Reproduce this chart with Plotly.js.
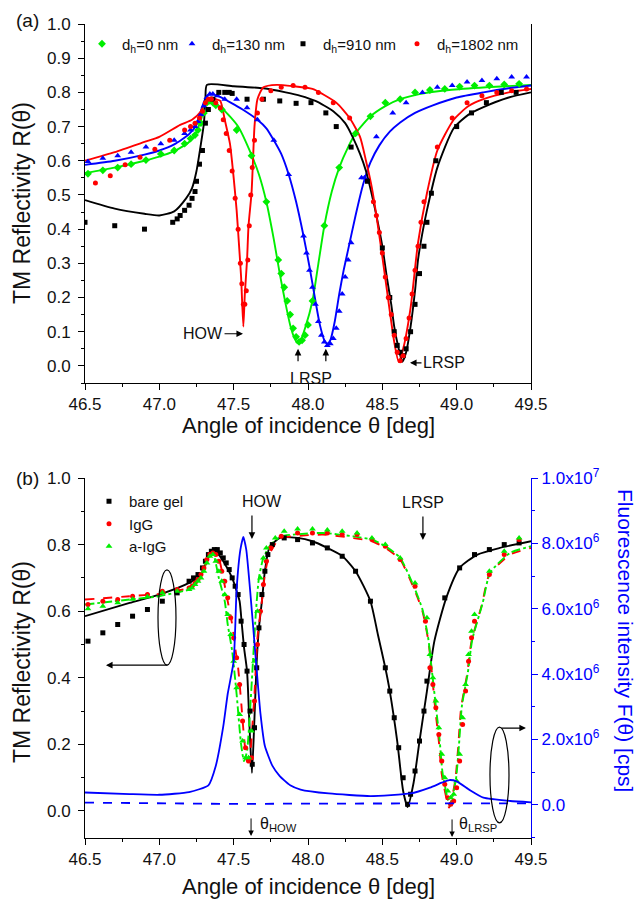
<!DOCTYPE html>
<html><head><meta charset="utf-8">
<script src="https://cdn.plot.ly/plotly-3.0.1.min.js"></script>
<style>body{margin:0;background:#fff}#chart{width:639px;height:900px}</style>
</head><body><div id="chart"></div><script>
// ---------------- Panel (a) data ----------------
const aLegendNames = ['d<sub>h</sub>=0 nm','d<sub>h</sub>=130 nm','d<sub>h</sub>=910 nm','d<sub>h</sub>=1802 nm'];

const aGreenFitX = [46.5,46.7,46.9,47.0,47.1,47.2,47.25,47.28,47.31,47.33,47.36,47.43,47.53,47.62,47.67,47.72,47.77,47.81,47.85,47.88,47.91,47.93,47.95,47.98,48.03,48.07,48.11,48.16,48.21,48.27,48.32,48.42,48.52,48.62,48.75,48.95,49.2,49.5];
const aGreenFitY = [0.564,0.58,0.60,0.612,0.628,0.655,0.685,0.72,0.765,0.78,0.772,0.75,0.70,0.617,0.56,0.48,0.37,0.27,0.18,0.12,0.08,0.067,0.075,0.11,0.19,0.30,0.41,0.51,0.58,0.64,0.68,0.73,0.76,0.78,0.795,0.807,0.815,0.822];
const aGreenExpX = [46.52,46.62,46.72,46.81,46.91,47.01,47.10,47.17,47.21,47.24,47.26,47.28,47.30,47.32,47.34,47.36,47.38,47.42,47.52,47.62,47.72,47.80,47.82,47.84,47.86,47.88,47.90,47.92,47.94,47.96,47.98,48.00,48.03,48.11,48.21,48.32,48.42,48.52,48.62,48.72,48.82,48.92,49.02,49.12,49.22,49.32,49.42];
const aGreenExpY = [0.562,0.572,0.58,0.59,0.602,0.62,0.63,0.65,0.665,0.675,0.69,0.71,0.74,0.77,0.775,0.77,0.762,0.75,0.69,0.615,0.48,0.31,0.27,0.23,0.19,0.15,0.11,0.085,0.07,0.075,0.09,0.12,0.19,0.41,0.58,0.68,0.73,0.77,0.78,0.80,0.807,0.81,0.817,0.82,0.82,0.823,0.825];

const aBlueFitX = [46.5,46.7,46.9,47.0,47.1,47.2,47.25,47.29,47.32,47.35,47.4,47.48,47.56,47.66,47.72,47.77,47.82,47.87,47.92,47.97,48.01,48.05,48.08,48.11,48.13,48.15,48.18,48.21,48.24,48.27,48.32,48.37,48.42,48.48,48.55,48.62,48.72,48.84,49.0,49.18,49.35,49.5];
const aBlueFitY = [0.588,0.60,0.618,0.63,0.648,0.678,0.705,0.76,0.79,0.795,0.788,0.77,0.75,0.72,0.695,0.66,0.62,0.56,0.48,0.38,0.29,0.19,0.12,0.075,0.065,0.075,0.13,0.21,0.28,0.34,0.44,0.53,0.595,0.645,0.685,0.712,0.74,0.762,0.785,0.80,0.812,0.82];
const aBlueExpX = [46.52,46.62,46.72,46.81,46.91,47.01,47.10,47.17,47.21,47.24,47.26,47.28,47.30,47.32,47.34,47.36,47.39,47.44,47.52,47.59,47.66,47.77,47.87,47.97,47.99,48.01,48.03,48.05,48.07,48.09,48.11,48.13,48.15,48.17,48.19,48.21,48.23,48.25,48.27,48.29,48.36,48.38,48.46,48.57,48.66,48.77,48.87,48.97,49.07,49.17,49.27,49.37,49.47];
const aBlueExpY = [0.598,0.607,0.615,0.625,0.64,0.65,0.66,0.68,0.69,0.70,0.715,0.735,0.76,0.785,0.795,0.795,0.79,0.78,0.78,0.755,0.72,0.66,0.56,0.38,0.33,0.28,0.23,0.18,0.13,0.09,0.07,0.06,0.065,0.08,0.11,0.16,0.21,0.26,0.31,0.36,0.55,0.55,0.67,0.74,0.77,0.80,0.815,0.82,0.83,0.835,0.84,0.845,0.845];

const aBlackFitX = [46.5,46.7,46.9,47.0,47.1,47.18,47.22,47.25,47.28,47.30,47.31,47.32,47.5,47.7,47.85,47.95,48.05,48.17,48.25,48.30,48.35,48.39,48.43,48.46,48.50,48.53,48.56,48.58,48.61,48.635,48.66,48.69,48.72,48.74,48.77,48.80,48.87,48.98,49.08,49.18,49.35,49.5];
const aBlackFitY = [0.485,0.46,0.445,0.44,0.452,0.49,0.52,0.57,0.65,0.71,0.78,0.822,0.818,0.812,0.80,0.79,0.775,0.745,0.71,0.67,0.62,0.57,0.50,0.44,0.35,0.26,0.18,0.115,0.05,0.012,0.04,0.115,0.22,0.31,0.39,0.455,0.58,0.695,0.735,0.757,0.785,0.80];
const aBlackExpX = [46.5,46.7,46.9,47.09,47.12,47.14,47.17,47.20,47.22,47.24,47.25,47.27,47.29,47.31,47.33,47.36,47.40,47.44,47.47,47.49,47.59,47.70,47.81,47.92,48.02,48.12,48.19,48.29,48.40,48.50,48.55,48.58,48.60,48.62,48.64,48.66,48.69,48.72,48.75,48.78,48.80,48.83,48.86,49.00,49.10,49.20,49.30,49.40];
const aBlackExpY = [0.42,0.41,0.40,0.42,0.43,0.44,0.455,0.47,0.49,0.51,0.54,0.59,0.63,0.71,0.75,0.78,0.80,0.80,0.80,0.797,0.78,0.78,0.775,0.768,0.77,0.74,0.70,0.64,0.54,0.345,0.20,0.10,0.06,0.04,0.03,0.05,0.10,0.18,0.27,0.35,0.42,0.505,0.60,0.70,0.74,0.77,0.80,0.80];

const aRedFitX = [46.5,46.7,46.9,47.0,47.14,47.22,47.28,47.32,47.35,47.38,47.41,47.44,47.475,47.50,47.52,47.535,47.55,47.565,47.575,47.59,47.60,47.62,47.63,47.64,47.66,47.70,47.79,47.9,48.03,48.19,48.28,48.35,48.39,48.43,48.46,48.50,48.55,48.58,48.61,48.64,48.69,48.74,48.80,48.87,48.98,49.08,49.18,49.35,49.5];
const aRedFitY = [0.60,0.625,0.655,0.67,0.705,0.72,0.745,0.78,0.785,0.78,0.775,0.72,0.65,0.55,0.455,0.36,0.26,0.115,0.21,0.31,0.41,0.505,0.60,0.70,0.78,0.815,0.822,0.818,0.81,0.77,0.725,0.67,0.60,0.52,0.44,0.32,0.16,0.07,0.012,0.05,0.17,0.36,0.505,0.63,0.72,0.76,0.78,0.80,0.81];
const aRedExpX = [46.57,46.67,46.77,46.87,46.97,47.07,47.17,47.21,47.24,47.27,47.29,47.31,47.33,47.35,47.38,47.41,47.43,47.45,47.47,47.49,47.51,47.53,47.545,47.555,47.565,47.575,47.585,47.595,47.605,47.615,47.625,47.64,47.66,47.69,47.75,47.82,47.90,47.98,48.07,48.17,48.28,48.44,48.46,48.48,48.50,48.52,48.54,48.56,48.58,48.60,48.62,48.64,48.66,48.68,48.70,48.72,48.74,48.76,48.78,48.87,48.97,49.07,49.17,49.27,49.37,49.47];
const aRedExpY = [0.535,0.556,0.588,0.61,0.634,0.66,0.69,0.70,0.71,0.725,0.745,0.77,0.78,0.78,0.77,0.755,0.72,0.68,0.63,0.57,0.49,0.40,0.30,0.24,0.18,0.18,0.22,0.31,0.41,0.50,0.58,0.66,0.74,0.78,0.805,0.815,0.82,0.815,0.80,0.77,0.725,0.48,0.44,0.39,0.33,0.26,0.20,0.15,0.09,0.04,0.015,0.03,0.08,0.14,0.21,0.28,0.35,0.42,0.48,0.64,0.725,0.77,0.79,0.80,0.805,0.81];

// ---------------- Panel (b) data ----------------
const bLegendNames = ['bare gel','IgG','a-IgG'];

const bBlackFitX = [46.5,46.8,47.0,47.2,47.28,47.32,47.355,47.38,47.43,47.49,47.52,47.54,47.555,47.57,47.59,47.605,47.623,47.64,47.655,47.67,47.69,47.71,47.74,47.81,47.93,48.03,48.13,48.23,48.32,48.42,48.47,48.52,48.55,48.60,48.64,48.67,48.71,48.75,48.80,48.85,48.93,49.02,49.14,49.29,49.5];
const bBlackFitY = [0.585,0.625,0.65,0.685,0.71,0.75,0.784,0.78,0.75,0.70,0.66,0.63,0.56,0.49,0.42,0.27,0.114,0.28,0.45,0.55,0.63,0.72,0.79,0.82,0.82,0.81,0.79,0.766,0.72,0.63,0.53,0.43,0.36,0.21,0.06,0.012,0.084,0.21,0.36,0.51,0.64,0.73,0.77,0.79,0.81];
const bBlackExpX = [46.52,46.62,46.72,46.82,46.92,47.02,47.12,47.2,47.23,47.26,47.29,47.31,47.33,47.35,47.37,47.39,47.41,47.43,47.45,47.47,47.49,47.51,47.53,47.55,47.57,47.59,47.61,47.625,47.64,47.655,47.67,47.69,47.71,47.73,47.76,47.84,47.93,48.03,48.13,48.23,48.32,48.42,48.52,48.55,48.58,48.61,48.64,48.67,48.69,48.72,48.75,48.78,48.80,48.92,49.02,49.12,49.22,49.32,49.42];
const bBlackExpY = [0.51,0.535,0.56,0.585,0.605,0.63,0.655,0.69,0.70,0.71,0.73,0.75,0.77,0.78,0.785,0.785,0.775,0.76,0.745,0.725,0.70,0.675,0.65,0.57,0.50,0.42,0.30,0.14,0.25,0.43,0.55,0.65,0.72,0.77,0.80,0.82,0.815,0.805,0.79,0.765,0.72,0.63,0.43,0.36,0.28,0.19,0.10,0.02,0.05,0.12,0.21,0.30,0.39,0.64,0.73,0.77,0.785,0.80,0.805];

const bRedFitX = [46.5,46.8,47.0,47.1,47.2,47.25,47.3,47.35,47.37,47.40,47.43,47.46,47.49,47.51,47.53,47.55,47.57,47.59,47.61,47.625,47.64,47.66,47.69,47.71,47.74,47.81,47.9,48.1,48.3,48.43,48.52,48.62,48.72,48.77,48.81,48.83,48.855,48.88,48.90,48.935,48.95,48.99,49.01,49.03,49.07,49.10,49.17,49.22,49.36,49.5];
const bRedFitY = [0.635,0.645,0.652,0.66,0.67,0.69,0.73,0.775,0.78,0.76,0.70,0.63,0.56,0.49,0.43,0.33,0.22,0.15,0.17,0.25,0.35,0.52,0.63,0.71,0.77,0.82,0.825,0.83,0.82,0.81,0.79,0.755,0.66,0.60,0.51,0.43,0.31,0.21,0.11,0.03,0.01,0.09,0.19,0.31,0.41,0.51,0.62,0.71,0.77,0.79];
const bRedExpX = [46.52,46.62,46.72,46.82,46.92,47.02,47.12,47.2,47.22,47.24,47.26,47.28,47.30,47.32,47.34,47.36,47.38,47.40,47.42,47.44,47.46,47.48,47.50,47.52,47.54,47.56,47.58,47.60,47.62,47.64,47.66,47.68,47.70,47.72,47.75,47.82,47.93,48.03,48.13,48.23,48.33,48.43,48.52,48.62,48.72,48.79,48.82,48.84,48.86,48.88,48.90,48.92,48.94,48.96,48.98,49.00,49.02,49.04,49.06,49.08,49.10,49.12,49.22,49.32,49.42];
const bRedExpY = [0.62,0.63,0.635,0.645,0.65,0.66,0.665,0.67,0.675,0.685,0.695,0.71,0.73,0.755,0.77,0.775,0.77,0.75,0.72,0.69,0.64,0.58,0.52,0.46,0.38,0.27,0.19,0.15,0.16,0.33,0.50,0.60,0.68,0.75,0.79,0.825,0.835,0.835,0.835,0.83,0.83,0.815,0.795,0.755,0.675,0.57,0.43,0.38,0.31,0.23,0.15,0.08,0.04,0.02,0.03,0.07,0.15,0.26,0.36,0.45,0.52,0.57,0.71,0.77,0.815];

const bGreenFitX = [46.5,46.8,47.0,47.1,47.2,47.25,47.3,47.34,47.36,47.40,47.44,47.46,47.49,47.52,47.55,47.57,47.59,47.61,47.63,47.65,47.67,47.70,47.75,47.82,47.9,48.1,48.3,48.43,48.52,48.62,48.72,48.77,48.81,48.83,48.86,48.885,48.905,48.94,48.955,48.995,49.015,49.035,49.075,49.105,49.175,49.225,49.36,49.5];
const bGreenFitY = [0.62,0.635,0.645,0.655,0.665,0.685,0.725,0.77,0.775,0.70,0.63,0.56,0.48,0.35,0.20,0.15,0.18,0.30,0.45,0.60,0.70,0.76,0.80,0.825,0.83,0.835,0.825,0.815,0.795,0.76,0.665,0.605,0.515,0.435,0.315,0.215,0.115,0.035,0.015,0.095,0.195,0.315,0.415,0.515,0.625,0.715,0.775,0.795];
const bGreenExpX = [46.52,46.62,46.72,46.82,46.92,47.02,47.12,47.2,47.22,47.24,47.26,47.28,47.30,47.32,47.34,47.36,47.38,47.40,47.42,47.44,47.46,47.48,47.50,47.52,47.54,47.56,47.58,47.60,47.62,47.64,47.66,47.68,47.70,47.72,47.78,47.84,47.93,48.03,48.13,48.23,48.33,48.43,48.52,48.62,48.72,48.80,48.82,48.84,48.86,48.88,48.90,48.92,48.94,48.96,48.98,49.00,49.02,49.04,49.06,49.08,49.10,49.12,49.22,49.32,49.42];
const bGreenExpY = [0.607,0.615,0.625,0.636,0.643,0.655,0.66,0.665,0.67,0.68,0.69,0.70,0.72,0.745,0.765,0.77,0.75,0.72,0.69,0.65,0.59,0.53,0.45,0.37,0.29,0.21,0.16,0.16,0.24,0.45,0.60,0.70,0.76,0.79,0.82,0.84,0.847,0.847,0.844,0.84,0.835,0.82,0.80,0.76,0.685,0.58,0.47,0.40,0.33,0.25,0.17,0.10,0.06,0.04,0.05,0.09,0.17,0.28,0.38,0.47,0.54,0.59,0.72,0.78,0.82];

// fluorescence (cps), right axis
const bFluoX = [46.5,46.8,47.0,47.2,47.33,47.38,47.43,47.46,47.50,47.52,47.545,47.565,47.585,47.61,47.65,47.68,47.71,47.76,47.81,47.88,47.95,48.14,48.42,48.69,48.82,48.90,48.95,49.0,49.09,49.18,49.36,49.5];
const bFluoY = [0.38e6,0.33e6,0.31e6,0.39e6,0.6e6,1.2e6,2.4e6,3.4e6,4.4e6,6.6e6,7.8e6,8.2e6,7.8e6,6.6e6,4.4e6,2.8e6,1.8e6,1.2e6,0.88e6,0.6e6,0.47e6,0.35e6,0.27e6,0.35e6,0.53e6,0.68e6,0.76e6,0.72e6,0.45e6,0.22e6,0.12e6,0.08e6];
const bBaseX = [46.5,47.0,47.5,48.0,48.5,49.0,49.5];
const bBaseY = [0.07e6,0.05e6,0.03e6,0.04e6,0.05e6,0.04e6,0.05e6];

const bRightTickVals = [0,2e6,4e6,6e6,8e6,1e7];
const bRightTickText = ['0.0','2.0x10<sup>6</sup>','4.0x10<sup>6</sup>','6.0x10<sup>6</sup>','8.0x10<sup>6</sup>','1.0x10<sup>7</sup>'];

// ---------------- styling ----------------
const W=639, H=900;
const FONT='Arial, "Liberation Sans", sans-serif';
const TICK=17, ANN=16;
const GREEN='#00ee00', BLUE='#0000ff', RED='#ff0000', BLACK='#000000';

function fit(x,y,color,xa,ya,dash,w){
  return {x:x,y:y,xaxis:xa,yaxis:ya,mode:'lines',line:{color:color,width:w||1.9,dash:dash||'solid',shape:'spline',smoothing:0.6},showlegend:false,hoverinfo:'skip'};
}
function exp(x,y,color,symbol,size,name,xa,ya,leg){
  return {x:x,y:y,xaxis:xa,yaxis:ya,mode:'markers',name:name,legend:leg,marker:{color:color,symbol:symbol,size:size,line:{width:0}},hoverinfo:'skip'};
}

const traces = [
  fit(aGreenFitX,aGreenFitY,GREEN,'x','y'),
  fit(aBlueFitX,aBlueFitY,BLUE,'x','y'),
  fit(aBlackFitX,aBlackFitY,BLACK,'x','y'),
  fit(aRedFitX,aRedFitY,RED,'x','y'),
  exp(aGreenExpX,aGreenExpY,GREEN,'diamond',6,aLegendNames[0],'x','y','legend3'),
  exp(aBlueExpX,aBlueExpY,BLUE,'triangle-up',6,aLegendNames[1],'x','y','legend4'),
  exp(aBlackExpX,aBlackExpY,BLACK,'square',5,aLegendNames[2],'x','y','legend5'),
  exp(aRedExpX,aRedExpY,RED,'circle',5,aLegendNames[3],'x','y','legend6'),

  {x:bFluoX,y:bFluoY,xaxis:'x2',yaxis:'y3',mode:'lines',line:{color:BLUE,width:1.8,shape:'spline',smoothing:0.5},showlegend:false,hoverinfo:'skip'},
  {x:bBaseX,y:bBaseY,xaxis:'x2',yaxis:'y3',mode:'lines',line:{color:BLUE,width:1.8,dash:'dash'},showlegend:false,hoverinfo:'skip'},
  fit(bBlackFitX,bBlackFitY,BLACK,'x2','y2'),
  fit(bRedFitX,bRedFitY,RED,'x2','y2','dash',1.9),
  fit(bGreenFitX,bGreenFitY,GREEN,'x2','y2','dashdot',1.9),
  exp(bBlackExpX,bBlackExpY,BLACK,'square',5,bLegendNames[0],'x2','y2','legend2'),
  exp(bRedExpX,bRedExpY,RED,'circle',5,bLegendNames[1],'x2','y2','legend2'),
  exp(bGreenExpX,bGreenExpY,GREEN,'triangle-up',6,bLegendNames[2],'x2','y2','legend2')
];

const tf={family:FONT,size:TICK,color:'#111'};
function xax(dom,anchor){
  return {domain:dom,anchor:anchor,range:[46.5,49.5],tick0:46.5,dtick:0.5,tickformat:'.1f',ticks:'outside',ticklen:6,tickwidth:1,tickcolor:'#000',
    minor:{dtick:0.25,tick0:46.5,ticks:'outside',ticklen:3,tickcolor:'#000'},showline:true,linecolor:'#000',linewidth:1,showgrid:false,zeroline:false,tickfont:tf};
}
function xtop(over,anchor){
  return {overlaying:over,anchor:anchor,side:'top',range:[46.5,49.5],tick0:46.5,dtick:0.5,ticks:'inside',ticklen:5,tickcolor:'#000',
    minor:{dtick:0.25,tick0:46.5,ticks:'inside',ticklen:5,tickcolor:'#000'},showticklabels:false,showline:true,linecolor:'#000',showgrid:false,zeroline:false};
}
function legA(px){
  return {orientation:'h',x:px/W,y:1-44/H,xanchor:'left',yanchor:'middle',bgcolor:'rgba(0,0,0,0)',font:{family:FONT,size:15,color:'#111'},itemwidth:30};
}

const xA=[85/W,531/W];
const layout = {
  width:W,height:H,margin:{l:0,r:0,t:0,b:0},paper_bgcolor:'#fff',plot_bgcolor:'rgba(0,0,0,0)',
  font:{family:FONT,color:'#111'},
  xaxis:xax(xA,'y'),
  xaxis2:xax(xA,'y2'),
  xaxis3:xtop('x','y'),
  xaxis4:xtop('x2','y2'),
  yaxis:{domain:[1-383/H,1-24/H],anchor:'x',range:[-0.05,1.0],tick0:0,dtick:0.1,tickformat:'.1f',ticks:'outside',ticklen:6,tickcolor:'#000',
    minor:{dtick:0.05,tick0:0,ticks:'outside',ticklen:3,tickcolor:'#000'},showline:true,mirror:true,linecolor:'#000',showgrid:false,zeroline:false,tickfont:tf,ticklabelstandoff:4},
  yaxis2:{domain:[1-837.6/H,1-478/H],anchor:'x2',range:[-0.08,1.0],tick0:0,dtick:0.2,tickformat:'.1f',ticks:'outside',ticklen:6,tickcolor:'#000',
    minor:{dtick:0.1,tick0:0,ticks:'outside',ticklen:3,tickcolor:'#000'},showline:true,linecolor:'#000',showgrid:false,zeroline:false,tickfont:tf,ticklabelstandoff:4},
  yaxis3:{overlaying:'y2',anchor:'x2',side:'right',range:[-1e6,1e7],tickmode:'array',tickvals:bRightTickVals,ticktext:bRightTickText,ticks:'outside',ticklen:6,tickcolor:BLUE,
    minor:{dtick:1e6,tick0:0,ticks:'outside',ticklen:3,tickcolor:BLUE},showline:true,linecolor:BLUE,linewidth:1.2,showgrid:false,zeroline:false,tickfont:{family:FONT,size:TICK,color:BLUE}},
  legend3:legA(82),
  legend4:legA(172),
  legend5:legA(283),
  legend6:legA(397),
  legend2:{orientation:'v',x:89/W,y:1-485/H,xanchor:'left',yanchor:'top',bgcolor:'rgba(0,0,0,0)',font:{family:FONT,size:15,color:'#111'},itemwidth:30,tracegroupgap:0,traceorder:'normal'},
  shapes:[
    {type:'circle',xref:'x2',yref:'y2',x0:46.991,x1:47.112,y0:0.438,y1:0.724,line:{color:'#000',width:1.2}},
    {type:'circle',xref:'x2',yref:'y2',x0:49.224,x1:49.352,y0:-0.036,y1:0.252,line:{color:'#000',width:1.2}}
  ],
  annotations:[]
};

const A=layout.annotations;
function txt(x,y,t,opts){A.push(Object.assign({x:x,y:y,text:t,showarrow:false,xanchor:'center',yanchor:'middle',font:{family:FONT,size:ANN,color:'#111'}},opts||{}));}
function ptxt(px,py,t,size,color,angle){txt(px/W,1-py/H,t,{xref:'paper',yref:'paper',textangle:angle||0,font:{family:FONT,size:size,color:color||'#111'}});}
function arr(x,y,ax,ay,xr,yr,opts){A.push(Object.assign({x:x,y:y,ax:ax,ay:ay,xref:xr,yref:yr,text:'',showarrow:true,arrowhead:2,arrowsize:1.1,arrowwidth:1.2,arrowcolor:'#000',standoff:0,startstandoff:0},opts||{}));}

// panel labels and titles (paper coords)
ptxt(27,20,'(a)',19);
ptxt(27,478,'(b)',19);
ptxt(22,203,'TM Reflectivity R(θ)',23,'#111',-90);
ptxt(22,662,'TM Reflectivity R(θ)',23,'#111',-90);
ptxt(308,425,'Angle of incidence θ [deg]',22);
ptxt(308,886,'Angle of incidence θ [deg]',22);
ptxt(626,640,'Fluorescence intensity F(θ) [cps]',21,BLUE,90);

// panel (a) annotations
A.push({x:47.563,y:0.094,xref:'x',yref:'y',text:'HOW',showarrow:true,ax:-40,ay:0,arrowhead:2,arrowsize:1.1,arrowwidth:1.2,arrowcolor:'#000',standoff:0,font:{family:FONT,size:ANN,color:'#111'}});
arr(47.933,0.05,0,14,'x','y');
arr(48.12,0.05,0,14,'x','y');
txt(48.02,-0.036,'LRSP',{xref:'x',yref:'y'});
A.push({x:48.686,y:0.009,xref:'x',yref:'y',text:'LRSP',showarrow:true,ax:34,ay:0,arrowhead:2,arrowsize:1.1,arrowwidth:1.2,arrowcolor:'#000',standoff:0,font:{family:FONT,size:ANN,color:'#111'}});

// panel (b) annotations
txt(47.69,0.928,'HOW',{xref:'x2',yref:'y2'});
arr(47.623,0.817,0,-25,'x2','y2');
txt(48.773,0.925,'LRSP',{xref:'x2',yref:'y2'});
arr(48.773,0.814,0,-25,'x2','y2');
arr(47.617,-0.075,0,-19,'x2','y2',{arrowwidth:1});
txt(47.664,-0.042,'θ<sub>HOW</sub>',{xref:'x2',yref:'y2',xanchor:'left'});
arr(48.969,-0.078,0,-19,'x2','y2',{arrowwidth:1});
txt(49.002,-0.042,'θ<sub>LRSP</sub>',{xref:'x2',yref:'y2',xanchor:'left'});
arr(46.641,0.438,63,0,'x2','y2');
arr(49.466,0.249,-26,0,'x2','y2');

Plotly.newPlot('chart',traces,layout,{displayModeBar:false,staticPlot:true});
</script></body></html>
